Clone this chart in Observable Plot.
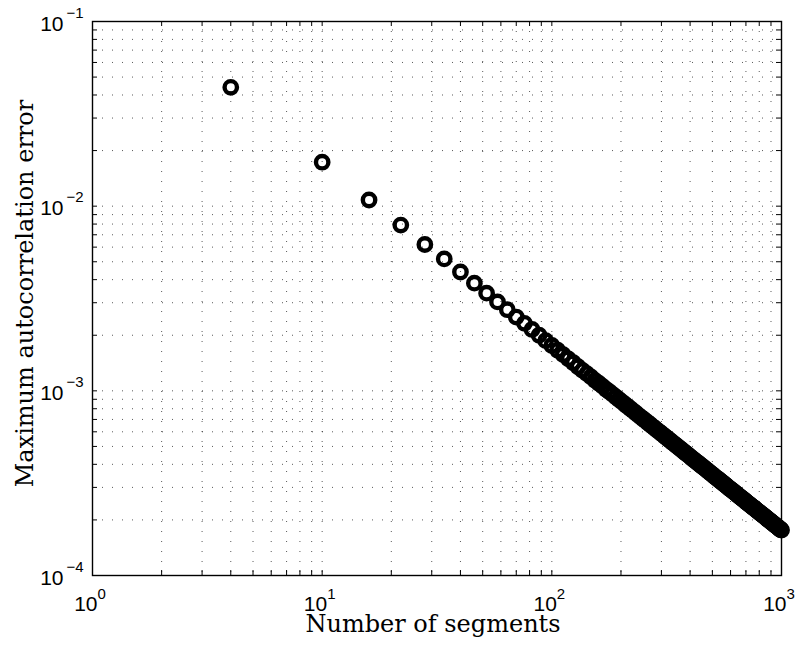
<!DOCTYPE html>
<html><head><meta charset="utf-8">
<script src="https://cdn.jsdelivr.net/npm/d3@7"></script>
<script src="https://cdn.jsdelivr.net/npm/@observablehq/plot@0.6"></script>
<style>
html,body{margin:0;padding:0;background:#fff;}
#chart svg{display:block;}
</style></head><body><div id="chart"></div>
<script>
// ---- data ----
const segments = [4,10,16,22,28,34,40,46,52,58,64,70,76,82,88,94,100,106,112,118,124,130,136,142,148,154,160,166,172,178,184,190,196,202,208,214,220,226,232,238,244,250,256,262,268,274,280,286,292,298,304,310,316,322,328,334,340,346,352,358,364,370,376,382,388,394,400,406,412,418,424,430,436,442,448,454,460,466,472,478,484,490,496,502,508,514,520,526,532,538,544,550,556,562,568,574,580,586,592,598,604,610,616,622,628,634,640,646,652,658,664,670,676,682,688,694,700,706,712,718,724,730,736,742,748,754,760,766,772,778,784,790,796,802,808,814,820,826,832,838,844,850,856,862,868,874,880,886,892,898,904,910,916,922,928,934,940,946,952,958,964,970,976,982,988,994,1000];
// maximum autocorrelation error, in units of 1e-3
const maxErrorE3 = [44.0,17.3,10.8,7.90,6.20,5.18,4.40,3.83,3.38,3.03,2.75,2.51,2.32,2.15,2.00,1.87,1.76,1.66,1.57,1.49,1.42,1.35,1.29,1.24,1.19,1.14,1.10,1.06,1.02,0.989,0.957,0.926,0.898,0.871,0.846,0.822,0.800,0.779,0.759,0.739,0.721,0.704,0.688,0.672,0.657,0.642,0.629,0.615,0.603,0.591,0.579,0.568,0.557,0.547,0.537,0.527,0.518,0.509,0.500,0.492,0.484,0.476,0.468,0.461,0.454,0.447,0.440,0.433,0.427,0.421,0.415,0.409,0.404,0.398,0.393,0.388,0.383,0.378,0.373,0.368,0.364,0.359,0.355,0.351,0.346,0.342,0.338,0.335,0.331,0.327,0.324,0.320,0.317,0.313,0.310,0.307,0.303,0.300,0.297,0.294,0.291,0.289,0.286,0.283,0.280,0.278,0.275,0.272,0.270,0.267,0.265,0.263,0.260,0.258,0.256,0.254,0.251,0.249,0.247,0.245,0.243,0.241,0.239,0.237,0.235,0.233,0.232,0.230,0.228,0.226,0.224,0.223,0.221,0.219,0.218,0.216,0.215,0.213,0.212,0.210,0.209,0.207,0.206,0.204,0.203,0.201,0.200,0.199,0.197,0.196,0.195,0.193,0.192,0.191,0.190,0.188,0.187,0.186,0.185,0.184,0.183,0.181,0.180,0.179,0.178,0.177,0.176];

const xDecades = [1, 10, 100, 1000];
const xExponents = ["0", "1", "2", "3"];
const yDecades = [1e-4, 1e-3, 1e-2, 1e-1];
const yExponents = ["\u22124", "\u22123", "\u22122", "\u22121"];
const minorMultipliers = [1,2,3,4,5,6,7,8,9];
const xTitle = "Number of segments";
const yTitle = "Maximum autocorrelation error";

// ---- layout ----
const W = 803, H = 655, mL = 92, mR = 22, mT = 21, mB = 80;
const frameW = W - mL - mR, frameH = H - mT - mB;
const tickLen = 5;
const tickFont = "Liberation Sans, Arial, Helvetica, sans-serif";
const titleFont = "DejaVu Serif, serif";

const table = segments.map((s, i) => ({segments: s, error: maxErrorE3[i] * 1e-3}));
const xTicks = xDecades.flatMap(d => minorMultipliers.map(m => d * m)).filter(v => v <= 1000 * 1.0001);
const yTicks = yDecades.flatMap(d => minorMultipliers.map(m => d * m)).filter(v => v <= 0.1 * 1.0001);
const xGrid = xTicks.filter(v => v > 1.0001 && v < 999);
const yGrid = yTicks.filter(v => v > 1.0001e-4 && v < 0.0999);
const xLab = xDecades.map((d, i) => ({v: d, e: xExponents[i]}));
const yLab = yDecades.map((d, i) => ({v: d, e: yExponents[i]}));

const grid = {stroke: "#000", strokeOpacity: 0.65, strokeDasharray: "1,9", strokeWidth: 1};

const chart = Plot.plot({
  width: W, height: H,
  marginLeft: mL, marginRight: mR, marginTop: mT, marginBottom: mB,
  style: {background: "#fff", overflow: "visible"},
  x: {type: "log", domain: [1, 1000], axis: null},
  y: {type: "log", domain: [1e-4, 1e-1], axis: null},
  marks: [
    Plot.gridX(xGrid, grid),
    Plot.gridY(yGrid, grid),
    Plot.tickX(xTicks, {x: d => d, insetTop: frameH - tickLen, stroke: "#000"}),
    Plot.tickX(xTicks, {x: d => d, insetBottom: frameH - tickLen, stroke: "#000"}),
    Plot.tickY(yTicks, {y: d => d, insetRight: frameW - tickLen, stroke: "#000"}),
    Plot.tickY(yTicks, {y: d => d, insetLeft: frameW - tickLen, stroke: "#000"}),
    Plot.frame({stroke: "#000", strokeWidth: 1.4}),
    Plot.dot(table, {x: "segments", y: "error", r: 6.2, stroke: "#000", strokeWidth: 4.4, fill: "none"}),
    // x tick labels 10^n
    Plot.text(xLab, {x: "v", frameAnchor: "bottom", text: () => "10", textAnchor: "end", lineAnchor: "bottom", dx: 5, dy: 35, fontSize: 21, fontFamily: tickFont, fill: "#000"}),
    Plot.text(xLab, {x: "v", frameAnchor: "bottom", text: "e", textAnchor: "start", lineAnchor: "bottom", dx: 5, dy: 23, fontSize: 15, fontFamily: tickFont, fill: "#000"}),
    // y tick labels 10^-n
    Plot.text(yLab, {y: "v", frameAnchor: "left", text: () => "10", textAnchor: "end", lineAnchor: "bottom", dx: -29, dy: 9, fontSize: 21, fontFamily: tickFont, fill: "#000"}),
    Plot.text(yLab, {y: "v", frameAnchor: "left", text: "e", textAnchor: "start", lineAnchor: "bottom", dx: -26, dy: -4, fontSize: 15, fontFamily: tickFont, fill: "#000"}),
    // axis titles
    Plot.text([xTitle], {frameAnchor: "bottom", text: d => d, textAnchor: "middle", lineAnchor: "bottom", dy: 56, dx: -4, fontSize: 24, fontFamily: titleFont, fill: "#000"}),
    Plot.text([yTitle], {frameAnchor: "left", text: d => d, textAnchor: "middle", rotate: -90, lineAnchor: "bottom", dx: -60, dy: -5, fontSize: 24, fontFamily: titleFont, fill: "#000"})
  ]
});
document.getElementById("chart").appendChild(chart);
</script>
</body></html>
